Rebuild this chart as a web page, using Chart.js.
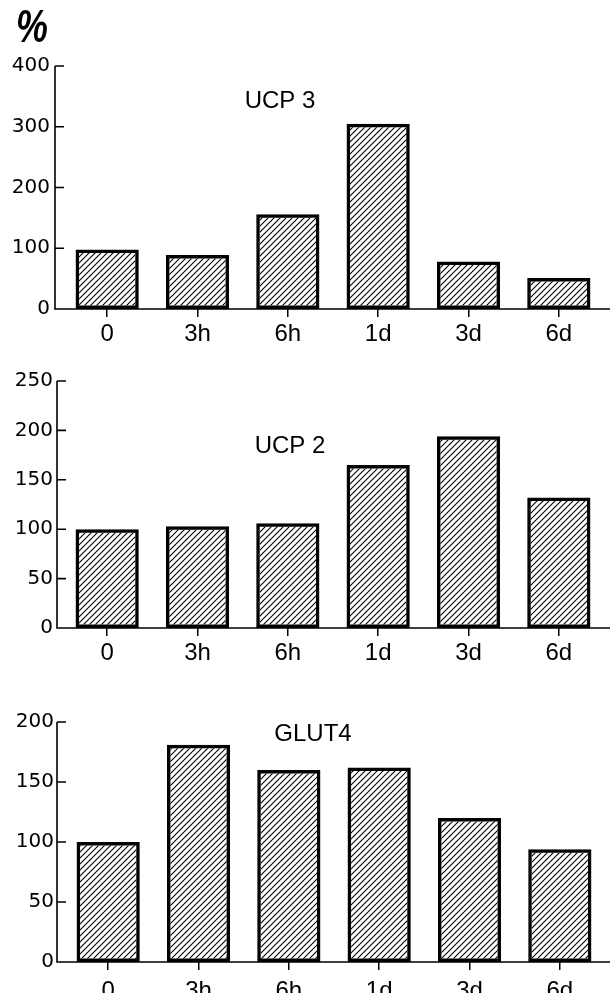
<!DOCTYPE html>
<html>
<head>
<meta charset="utf-8">
<script src="https://cdn.jsdelivr.net/npm/chart.js@4.4.1/dist/chart.umd.min.js"></script>
<style>
  html, body { margin: 0; padding: 0; background: #fff; }
  .panel { position: relative; width: 610px; }
  #p1 { height: 360px; }
  #p2 { height: 320px; }
  #p3 { height: 313px; }
</style>
</head>
<body>
<div class="panel" id="p1"><canvas id="ucp3Chart"></canvas></div>
<div class="panel" id="p2"><canvas id="ucp2Chart"></canvas></div>
<div class="panel" id="p3"><canvas id="glut4Chart"></canvas></div>
<script>
// Time after treatment (x categories)
const timePoints = ["0", "3h", "6h", "1d", "3d", "6d"];

// mRNA levels, % of time 0
const ucp3Values = [98, 89, 156, 305, 78, 51];
const ucp2Values = [100, 103, 106, 165, 194, 132];
const glut4Values = [100, 181, 160, 162, 120, 94];

// y tick labels per panel
const ucp3Ticks = [0, 100, 200, 300, 400];
const ucp2Ticks = [0, 50, 100, 150, 200, 250];
const glut4Ticks = [0, 50, 100, 150, 200];

// diagonal hatch fill like the printed figure
function hatch(ctx) {
    const tile = document.createElement("canvas");
    tile.width = tile.height = 6;
    const g = tile.getContext("2d");
    g.strokeStyle = "#000";
    g.lineWidth = 1.1;
    g.beginPath();
    g.moveTo(0, 6); g.lineTo(6, 0);
    g.moveTo(-1, 1); g.lineTo(1, -1);
    g.moveTo(5, 7); g.lineTo(7, 5);
    g.stroke();
    return ctx.createPattern(tile, "repeat");
}

// axis lines with inward ticks, panel title and optional "%" mark
const handAxes = {
    id: "handAxes",
    beforeDatasetsDraw(chart, args, opts) {
        const { ctx, chartArea } = chart;
        const y = chart.scales.y;
        const x0 = opts.axisX;
        ctx.save();
        ctx.strokeStyle = "#000";
        ctx.lineWidth = 1.6;
        ctx.beginPath();
        ctx.moveTo(x0, y.getPixelForValue(y.max));
        ctx.lineTo(x0, chartArea.bottom);
        ctx.lineTo(chart.width, chartArea.bottom);
        y.ticks.forEach(t => {
            const py = y.getPixelForValue(t.value);
            ctx.moveTo(x0, py);
            ctx.lineTo(x0 + 9, py);
        });
        ctx.stroke();
        ctx.restore();
    },
    afterDraw(chart, args, opts) {
        const { ctx } = chart;
        ctx.save();
        ctx.fillStyle = "#000";
        ctx.textAlign = "center";
        ctx.textBaseline = "middle";
        ctx.font = "24px 'Liberation Sans'";
        ctx.fillText(opts.title, opts.titleX, opts.titleY);
        if (opts.percent) {
            ctx.translate(32, 29);
            ctx.scale(0.78, 1);
            ctx.font = "italic bold 46px 'Liberation Sans'";
            ctx.fillText("%", 0, 0);
        }
        ctx.restore();
    }
};

function makePanel(id, values, ticks, p) {
    const ctx = document.getElementById(id).getContext("2d");
    return new Chart(ctx, {
        type: "bar",
        data: {
            labels: timePoints,
            datasets: [{
                data: values,
                backgroundColor: hatch(ctx),
                borderColor: "#000",
                borderWidth: 3.5,
                borderSkipped: false,
                barPercentage: 0.7,
                categoryPercentage: 1
            }]
        },
        options: {
            responsive: true,
            maintainAspectRatio: false,
            animation: false,
            layout: { padding: { top: p.top, right: p.right, bottom: 0, left: 0 } },
            plugins: {
                legend: { display: false },
                tooltip: { enabled: false },
                handAxes: { axisX: p.axisX, title: p.title, titleX: p.titleX, titleY: p.titleY, percent: p.percent }
            },
            scales: {
                x: {
                    offset: true,
                    afterFit: s => { s.height = p.xHeight; },
                    border: { display: false },
                    grid: {
                        offset: false,
                        drawOnChartArea: false,
                        drawTicks: true,
                        tickLength: 8,
                        color: "#000",
                        lineWidth: 1.5,
                        tickWidth: 1.5,
                        tickColor: "#000"
                    },
                    ticks: {
                        color: "#000",
                        padding: p.labelPad,
                        maxRotation: 0,
                        font: { family: "'Liberation Sans'", size: 24 }
                    }
                },
                y: {
                    min: ticks[0],
                    max: ticks[ticks.length - 1],
                    afterFit: s => { s.width = p.left; },
                    afterBuildTicks: s => { s.ticks = ticks.map(v => ({ value: v })); },
                    border: { display: false },
                    grid: { display: false, drawTicks: false },
                    ticks: {
                        color: "#000",
                        padding: p.yPad,
                        font: { family: "'DejaVu Sans'", size: 20 }
                    }
                }
            }
        },
        plugins: [handAxes]
    });
}

makePanel("ucp3Chart", ucp3Values, ucp3Ticks, {
    top: 66, right: 6, left: 62, xHeight: 51, axisX: 55, yPad: 12, labelPad: 3,
    title: "UCP 3", titleX: 280, titleY: 101, percent: true
});
makePanel("ucp2Chart", ucp2Values, ucp2Ticks, {
    top: 20, right: 6, left: 62, xHeight: 52, axisX: 57, yPad: 9, labelPad: 3,
    title: "UCP 2", titleX: 290, titleY: 86, percent: false
});
makePanel("glut4Chart", glut4Values, glut4Ticks, {
    top: 42, right: 5, left: 63, xHeight: 31, axisX: 57, yPad: 9, labelPad: 7,
    title: "GLUT4", titleX: 313, titleY: 54, percent: false
});
</script>
</body>
</html>
